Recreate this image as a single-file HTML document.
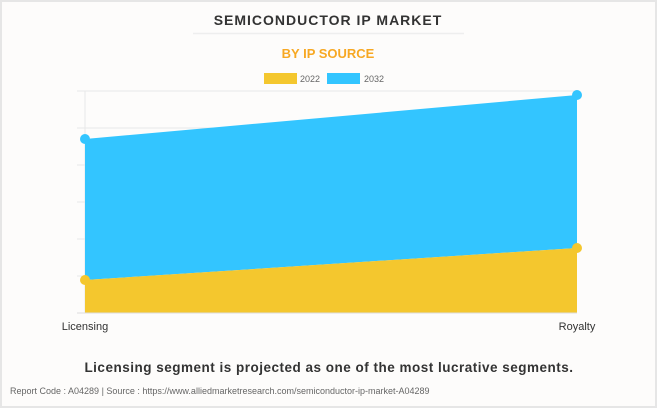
<!DOCTYPE html>
<html><head><style>
body{margin:0;width:657px;height:408px;overflow:hidden;background:#fff;font-family:"Liberation Sans",sans-serif}
.wrap{position:absolute;left:0;top:0;width:653px;height:404px;border:2px solid #e6e6e6;background:#fdfcfb}
</style></head><body><div class="wrap"></div>
<svg width="657" height="408" style="position:absolute;left:0;top:0" xmlns="http://www.w3.org/2000/svg">
<text x="328" y="25" text-anchor="middle" font-family="Liberation Sans" font-weight="bold" font-size="14" fill="#333" letter-spacing="1">SEMICONDUCTOR IP MARKET</text>
<line x1="193" y1="33.5" x2="464" y2="33.5" stroke="#eee" stroke-width="1.5"/>
<text x="328" y="58" text-anchor="middle" font-family="Liberation Sans" font-weight="bold" font-size="13" fill="#f7a823">BY IP SOURCE</text>
<rect x="264" y="73" width="33" height="11" fill="#f4c72e"/>
<text x="300" y="82" font-size="9" fill="#666">2022</text>
<rect x="327" y="73" width="33" height="11" fill="#33c5ff"/>
<text x="364" y="82" font-size="9" fill="#666">2032</text>
<g stroke="#e8e8e8" stroke-width="1">
<line x1="77" y1="91" x2="577" y2="91"/><line x1="77" y1="128" x2="577" y2="128"/>
<line x1="77" y1="165" x2="577" y2="165"/><line x1="77" y1="202" x2="577" y2="202"/>
<line x1="77" y1="239" x2="577" y2="239"/><line x1="77" y1="276" x2="577" y2="276"/>
<line x1="85" y1="91" x2="85" y2="313"/>
</g>
<polygon points="85,139 577,95 577,248 85,280" fill="#33c5ff"/>
<polygon points="85,280 577,248 577,313 85,313" fill="#f4c72e"/>
<line x1="77" y1="313" x2="577" y2="313" stroke="#ddd"/>
<circle cx="85" cy="139" r="5" fill="#33c5ff"/><circle cx="577" cy="95" r="5" fill="#33c5ff"/>
<circle cx="85" cy="280" r="5" fill="#f4c72e"/><circle cx="577" cy="248" r="5" fill="#f4c72e"/>
<text x="85" y="330" text-anchor="middle" font-size="11" fill="#333">Licensing</text>
<text x="577" y="330" text-anchor="middle" font-size="11" fill="#333">Royalty</text>
<text x="329" y="372" text-anchor="middle" font-weight="bold" font-size="13.5" fill="#333" letter-spacing="0.5">Licensing segment is projected as one of the most lucrative segments.</text>
<text x="10" y="394" font-size="9" fill="#666">Report Code : A04289  |  Source : https://www.alliedmarketresearch.com/semiconductor-ip-market-A04289</text>
</svg></body></html>
